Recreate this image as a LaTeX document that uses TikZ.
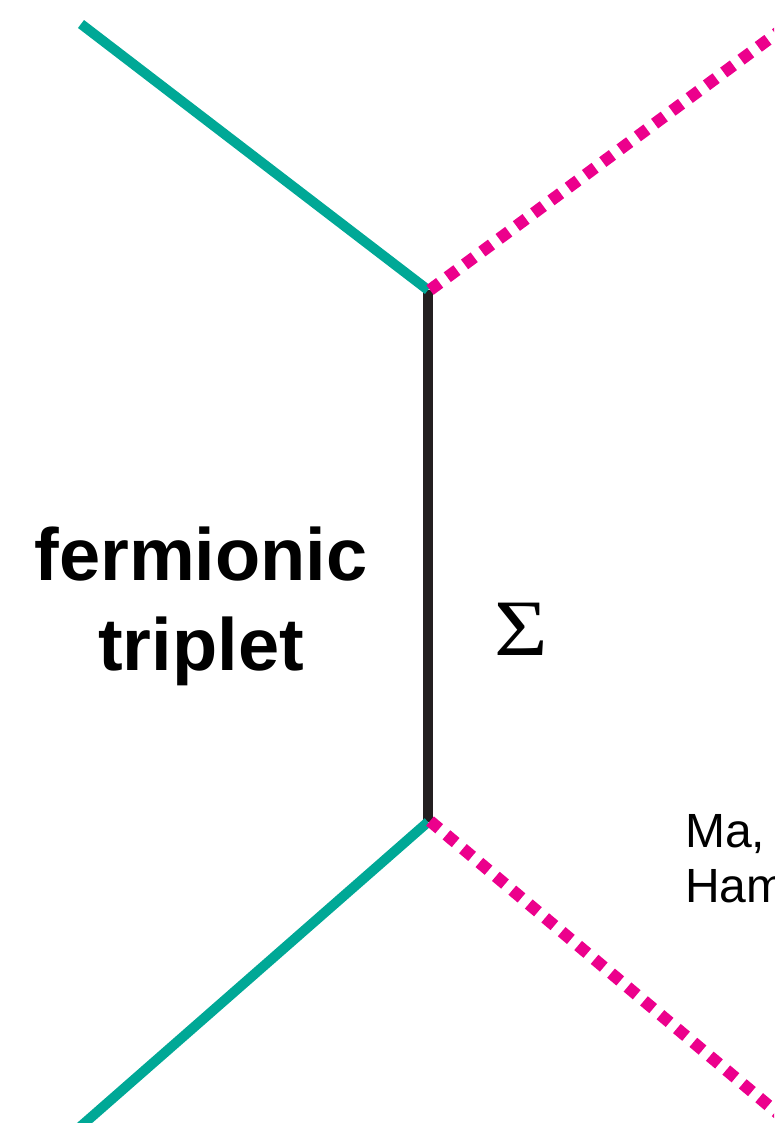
\documentclass[tikz,border=0pt]{standalone}
\usepackage{fontspec}
\setmainfont{Liberation Sans}
\newfontfamily\serifgreek{Liberation Serif}
\definecolor{teal1}{RGB}{0,168,150}
\definecolor{magenta1}{RGB}{236,0,140}
\definecolor{black1}{RGB}{35,31,32}
\tikzset{
  fermion/.style={draw=teal1, line width=10pt},
  scalar/.style={draw=magenta1, line width=12pt, dash pattern=on 12pt off 9.5pt},
  heavy/.style={draw=black1, line width=10.5pt},
  boldlabel/.style={font=\fontsize{74}{90}\selectfont\bfseries, anchor=base, inner sep=0pt},
  reflabel/.style={font=\fontsize{48}{55}\selectfont, anchor=base west, inner sep=0pt},
}
\begin{document}
\begin{tikzpicture}[x=1pt,y=-1pt]
\useasboundingbox (0,0) rectangle (774,1123);
\clip (0,0) rectangle (774,1123);
\coordinate (vt) at (428,290);
\coordinate (vb) at (428,822);
\coordinate (fl) at (81,24);
\coordinate (sr) at (800,16);
\coordinate (fb) at (80,1127);
\coordinate (sb) at (800,1132);
\draw[heavy] (vt) -- (vb);
\draw[fermion] (fl) -- (vt);
\draw[fermion] (vb) -- (fb);
\draw[scalar] ([xshift=2pt]vt) -- (sr);
\draw[scalar] ([xshift=2pt,yshift=1pt]vb) -- (sb);
\node[boldlabel] (l1) at (201,580) {fermionic};
\node[boldlabel] (l2) at (201,670) {triplet};
\node[anchor=base, inner sep=0pt, font=\serifgreek\fontsize{80}{80}\selectfont] (sig) at (521,655) {\scalebox{1.15}[1]{Σ}};
\node[reflabel] (r1) at (685,847) {Ma,};
\node[reflabel] (r2) at (685,902) {Ham};
\end{tikzpicture}
\end{document}
